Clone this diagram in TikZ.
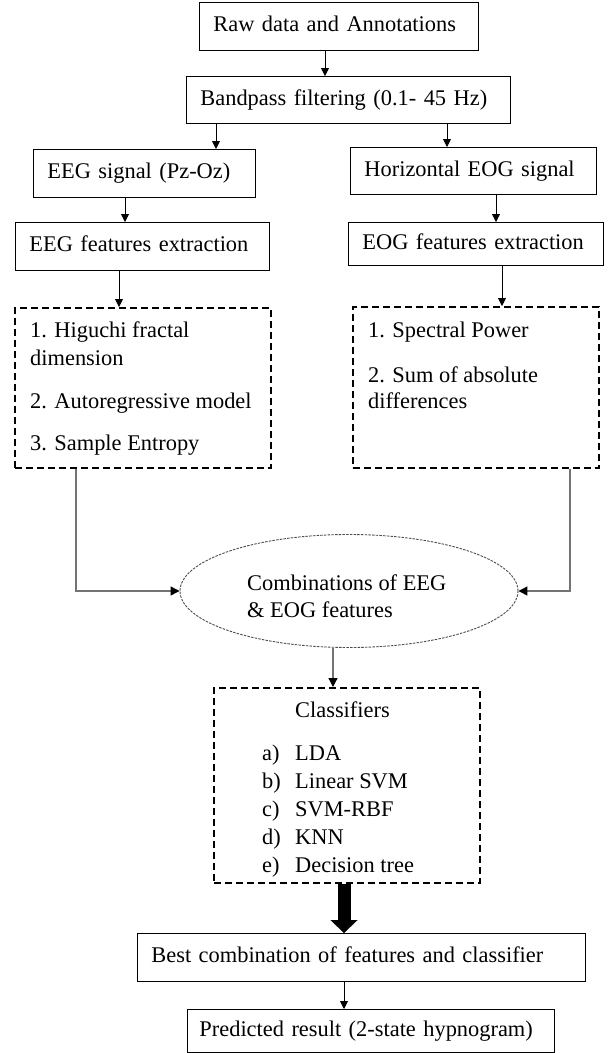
\documentclass[tikz,border=0pt]{standalone}
\usepackage{fontspec}
\setmainfont{Liberation Serif}
\usepackage{tikz}
\usetikzlibrary{arrows.meta}
\usetikzlibrary{shapes.geometric}
\tikzstyle{box} = [draw,line width=0.9pt,anchor=north west,align=left,inner xsep=14pt,inner ysep=0pt,text height=16pt,text depth=5pt]
\tikzstyle{setbox} = [draw,line width=1.8pt,dash pattern=on 7pt off 4pt,anchor=north west,inner sep=0pt]
\tikzstyle{item} = [anchor=base west,inner sep=0pt]
\tikzstyle{arr} = [line width=0.9pt,-{Triangle[length=8pt,width=8pt]}]
\tikzstyle{garr} = [draw=black!55,line width=1.2pt,-{Triangle[length=9pt,width=9pt,color=black]}]
\tikzstyle{bigarr} = [line width=13pt,-{Triangle[length=13pt,width=27pt,line width=0.01pt]}]

\begin{document}
\begin{tikzpicture}[x=1pt,y=-1pt,font=\fontsize{22.4}{27}\selectfont]
\useasboundingbox (0,0) rectangle (610,1053);

\node[box,text width=251pt,minimum height=48pt] (raw) at (199,2) {Raw data and Annotations};
\node[box,text width=296pt,minimum height=47pt] (band) at (186,76) {Bandpass filtering (0.1- 45 Hz)};

\node[box,text width=194pt,minimum height=48pt] (eegsig) at (33,149) {EEG signal (Pz-Oz)};
\node[box,text width=218pt,minimum height=47pt] (eogsig) at (350,147) {Horizontal EOG signal};
\node[box,text width=226pt,minimum height=48pt] (eegfeat) at (15,222) {EEG features extraction};
\node[box,text width=227pt,minimum height=43pt] (eogfeat) at (348,222) {EOG features extraction};

\node[setbox,minimum width=256pt,minimum height=160pt] (eegset) at (14,307) {};
\node[item] (hfd) at (30,337) {1. Higuchi fractal};
\node[item] (hfdb) at (30,365) {dimension};
\node[item] (ar) at (30,408) {2. Autoregressive model};
\node[item] (sampen) at (30,450) {3. Sample Entropy};

\node[setbox,minimum width=246pt,minimum height=161pt] (eogset) at (352,306) {};
\node[item] (sp) at (368,337) {1. Spectral Power};
\node[item] (sad) at (368,382) {2. Sum of absolute};
\node[item] (sadb) at (368,408) {differences};

\node[ellipse,draw=black!70,line width=0.9pt,dash pattern=on 2.5pt off 1.2pt,minimum width=338pt,minimum height=113pt,inner sep=0pt] (cmb) at (349,591) {};
\node[item] (cmba) at (247,590) {Combinations of EEG};
\node[item] (cmbb) at (247,617) {\& EOG features};

\node[setbox,minimum width=266pt,minimum height=195pt] (clf) at (213,687) {};
\node[item] (clftitle) at (295,717) {Classifiers};
\foreach \lab/\txt [count=\i from 0] in {a)/LDA,b)/Linear SVM,c)/SVM-RBF,d)/KNN,e)/Decision tree}{
  \node[item] (clflab\i) at (262,760+28*\i) {\lab};
  \node[item] (clfname\i) at (295,760+28*\i) {\txt};
}

\node[box,text width=420pt,minimum height=48pt] (best) at (137,933) {Best combination of features and classifier};
\node[box,inner xsep=12pt,text width=343pt,minimum height=43pt] (pred) at (187,1009) {Predicted result (2-state hypnogram)};

\draw[arr] (raw.south -| 325,0) -- (band.north -| 325,0);
\draw[arr] (band.south -| 216,0) -- (eegsig.north -| 216,0);
\draw[arr] (band.south -| 447,0) -- (eogsig.north -| 447,0);
\draw[arr] (eegsig.south -| 125,0) -- (eegfeat.north -| 125,0);
\draw[arr] (eogsig.south -| 496,0) -- (eogfeat.north -| 496,0);
\draw[arr] (eegfeat.south -| 119,0) -- (eegset.north -| 119,0);
\draw[arr] (eogfeat.south -| 502,0) -- (eogset.north -| 502,0);

\draw[garr] (eegset.south -| 76,0) |- (cmb.west);
\draw[garr] (eogset.south -| 570,0) |- (cmb.east);
\draw[garr] (cmb.south -| 333,0) -- (clf.north -| 333,0);

\draw[bigarr] (clf.south -| 344,0) -- (best.north -| 344,0);
\draw[arr] (best.south -| 344,0) -- (pred.north -| 344,0);

\end{tikzpicture}
\end{document}
